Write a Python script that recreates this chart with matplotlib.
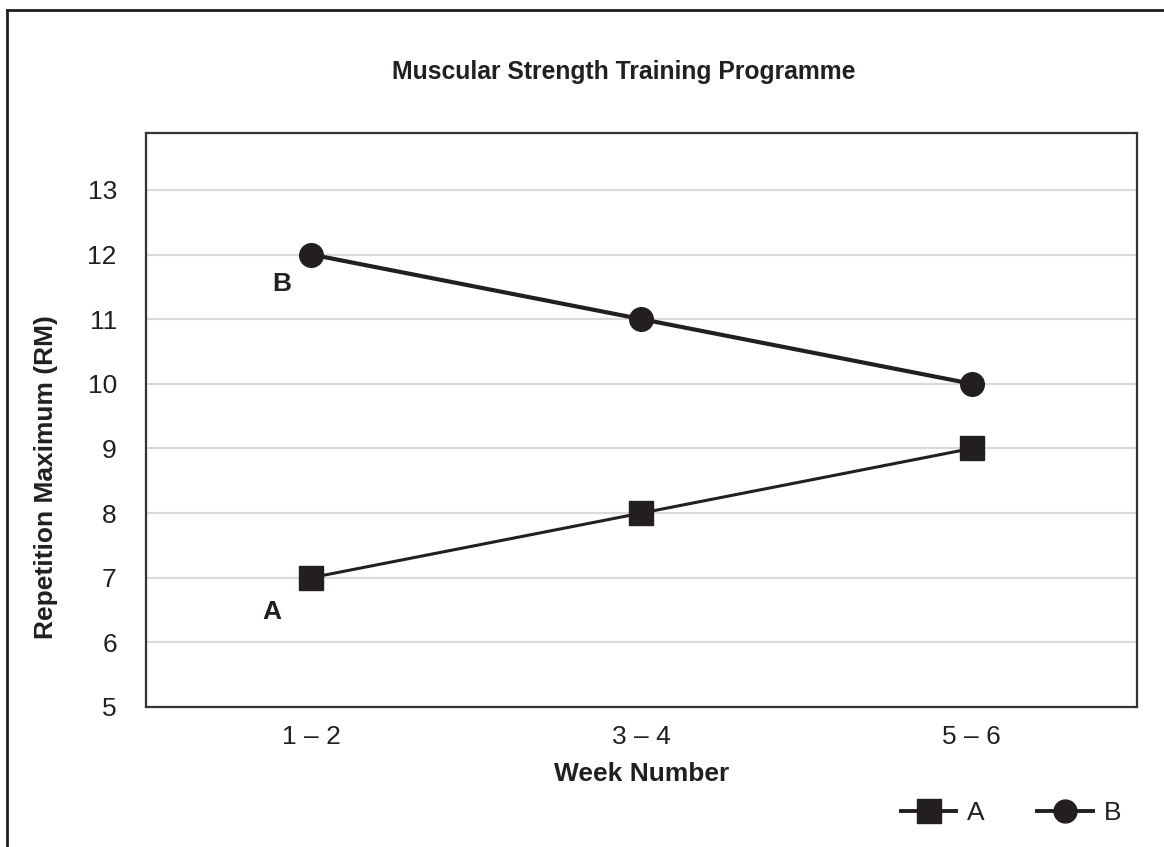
import matplotlib.pyplot as plt
from matplotlib.lines import Line2D

weeks = ["1 \u2013 2", "3 \u2013 4", "5 \u2013 6"]
rm_a = [7, 8, 9]
rm_b = [12, 11, 10]
y_ticks = [5, 6, 7, 8, 9, 10, 11, 12, 13]

plt.rcParams['font.family'] = ['Liberation Sans', 'DejaVu Sans']
ink = '#231f20'
fs = 19

fig = plt.figure(figsize=(11.64, 8.47), dpi=100)
ax = fig.add_axes([0.1254, 0.1653, 0.8514, 0.6777])

x = list(range(len(weeks)))
ax.plot(x, rm_a, color=ink, lw=2.2, marker='s', markersize=17.5, label='A', zorder=3)
ax.plot(x, rm_b, color=ink, lw=3.0, marker='o', markersize=17, label='B', zorder=3)

ax.set_xlim(-0.5, 2.5)
ax.set_ylim(5, 13.88)
ax.set_xticks(x)
ax.set_xticklabels(weeks)
ax.set_yticks(y_ticks)
ax.tick_params(axis='both', length=0, labelsize=fs, colors=ink)
ax.tick_params(axis='y', pad=21)
ax.tick_params(axis='x', pad=13)
ax.grid(axis='y', color='#d9d9d9', lw=1.5)
ax.set_axisbelow(True)
for s in ax.spines.values():
    s.set_color('#333333')
    s.set_linewidth(1.6)

ax.set_xlabel("Week Number", fontsize=fs, fontweight='bold', color=ink, labelpad=9)
ax.set_ylabel("Repetition Maximum (RM)", fontsize=fs, fontweight='bold', color=ink)
ax.yaxis.set_label_coords(-0.089, 0.40)

# series labels next to first points
ax.text(-0.09, rm_b[0] - 0.45, "B", fontsize=fs, fontweight='bold', color=ink, ha='center', va='center')
ax.text(-0.12, rm_a[0] - 0.53, "A", fontsize=fs, fontweight='bold', color=ink, ha='center', va='center')

fig.text(624 / 1164, 1 - 72 / 847, "Muscular Strength Training Programme",
         fontsize=17.8, fontweight='bold', color=ink, ha='center', va='center')

handles = [Line2D([], [], color=ink, lw=2.8, marker='s', markersize=17),
           Line2D([], [], color=ink, lw=2.8, marker='o', markersize=16.5)]
fig.legend(handles, ['A', 'B'], loc='center', bbox_to_anchor=(1011 / 1164, 1 - 813 / 847),
           ncol=2, frameon=False, fontsize=fs, handlelength=2.1, handletextpad=0.4,
           columnspacing=2.0, labelcolor=ink)

# outer frame (right and bottom edges run off the image)
fig.add_artist(Line2D([7 / 1164, 7 / 1164], [1 - 10 / 847, -0.05], transform=fig.transFigure,
                      color=ink, lw=2, clip_on=False))
fig.add_artist(Line2D([7 / 1164, 1.05], [1 - 10 / 847, 1 - 10 / 847], transform=fig.transFigure,
                      color=ink, lw=2, clip_on=False))

fig.savefig("out.png", dpi=100)
